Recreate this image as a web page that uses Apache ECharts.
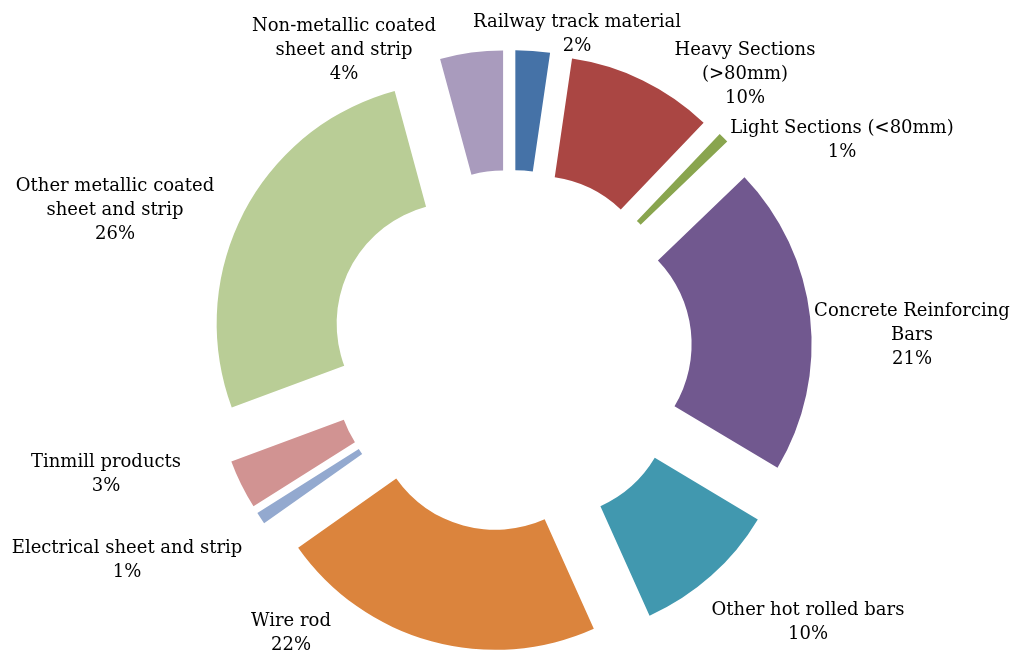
<!DOCTYPE html>
<html><head><meta charset="utf-8">
<script src="https://cdn.jsdelivr.net/npm/echarts@6/dist/echarts.min.js"></script>
<style>html,body{margin:0;padding:0;background:#fff}#chart{width:1015px;height:653px}</style>
</head><body><div id="chart"></div>
<script>
// Data (clockwise from 12 o'clock)
const categories = [
  "Railway track material",
  "Heavy Sections (>80mm)",
  "Light Sections (<80mm)",
  "Concrete Reinforcing Bars",
  "Other hot rolled bars",
  "Wire rod",
  "Electrical sheet and strip",
  "Tinmill products",
  "Other metallic coated sheet and strip",
  "Non-metallic coated sheet and strip"
];
const labelTexts = [
  "Railway track material",
  "Heavy Sections\n(>80mm)",
  "Light Sections (<80mm)",
  "Concrete Reinforcing\nBars",
  "Other hot rolled bars",
  "Wire rod",
  "Electrical sheet and strip",
  "Tinmill products",
  "Other metallic coated\nsheet and strip",
  "Non-metallic coated\nsheet and strip"
];
const values = [2.3, 9.8, 0.7, 20.7, 9.7, 21.9, 0.8, 3.3, 26.4, 4.2];

// Styling / layout
const colors = ["#4572A7", "#AA4643", "#89A54E", "#71588F", "#4198AF",
                "#DB843D", "#93A9CF", "#D19392", "#B9CD96", "#A99BBD"];
const labelAnchors = [
  [577, 34], [745, 74], [842, 140], [912, 335], [808, 622],
  [291, 633], [127, 560], [106, 474], [115, 210], [344, 50]
];

const common = {
  type: 'pie',
  center: [511, 351],
  radius: [121, 241],
  startAngle: 90,
  clockwise: true,
  percentPrecision: 0,
  avoidLabelOverlap: false,
  emphasis: { disabled: true },
  labelLine: { show: false }
};

const chart = echarts.init(document.getElementById('chart'), null, {renderer: 'canvas'});
chart.setOption({
  animation: false,
  backgroundColor: '#ffffff',
  series: [
    Object.assign({}, common, {
      name: 'slices',
      selectedMode: 'multiple',
      selectedOffset: 60,
      label: { show: false },
      data: categories.map((c, i) => ({
        name: c, value: values[i], selected: true,
        itemStyle: { color: colors[i], borderWidth: 0 }
      }))
    }),
    Object.assign({}, common, {
      name: 'labels',
      silent: true,
      selectedMode: false,
      itemStyle: { color: 'rgba(0,0,0,0)', borderWidth: 0 },
      label: {
        show: true,
        position: 'outside',
        fontFamily: 'DejaVu Serif',
        fontSize: 18,
        lineHeight: 24,
        color: '#000000',
        align: 'center',
        formatter: p => labelTexts[p.dataIndex] + '\n' + p.percent + '%'
      },
      labelLayout: p => {
        const a = labelAnchors[p.dataIndex];
        return { x: a[0], y: a[1], align: 'center', verticalAlign: 'middle', hideOverlap: false };
      },
      data: categories.map((c, i) => ({ name: c, value: values[i] }))
    })
  ]
});
</script>
</body></html>
